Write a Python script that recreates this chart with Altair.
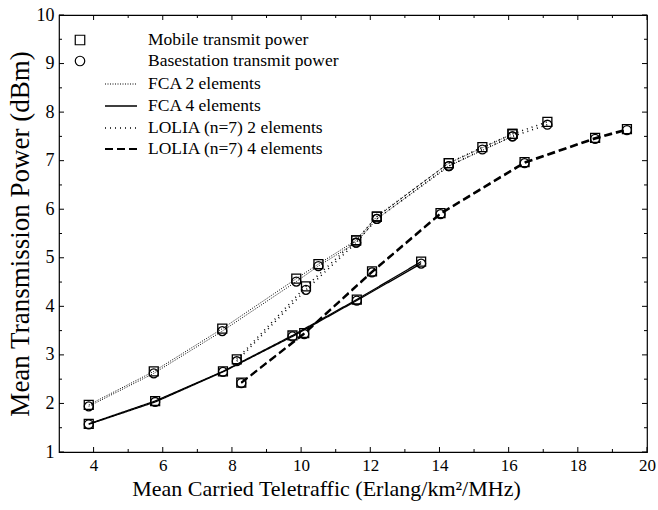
import altair as alt
import pandas as pd

# ---- data ----
fca2_x = [3.86, 5.74, 7.72, 9.86, 10.50, 11.59, 12.19, 14.27, 16.11]
fca2_mobile = [1.97, 2.66, 3.54, 4.57, 4.87, 5.36, 5.85, 6.95, 7.55]
fca2_base = [1.94, 2.62, 3.49, 4.51, 4.83, 5.31, 5.80, 6.89, 7.50]

fca4_x = [3.86, 5.78, 7.74, 9.75, 11.61, 13.47]
fca4_mobile = [1.58, 2.05, 2.66, 3.40, 4.14, 4.92]
fca4_base = [1.57, 2.03, 2.65, 3.38, 4.12, 4.88]

lolia2_x = [8.14, 10.14, 11.59, 12.19, 14.27, 15.24, 16.11, 17.12]
lolia2_mobile = [2.91, 4.41, 5.36, 5.85, 6.95, 7.28, 7.55, 7.80]
lolia2_base = [2.87, 4.34, 5.31, 5.80, 6.89, 7.23, 7.50, 7.74]

lolia4_x = [8.27, 10.09, 12.05, 14.03, 16.46, 18.50, 19.42]
lolia4_mobile = [2.43, 3.45, 4.72, 5.92, 6.97, 7.47, 7.65]
lolia4_base = [2.42, 3.43, 4.70, 5.90, 6.95, 7.45, 7.63]

series_names = ["FCA 2 elements", "FCA 4 elements",
                "LOLIA (n=7) 2 elements", "LOLIA (n=7) 4 elements"]
kind_names = ["Mobile transmit power", "Basestation transmit power"]

x_major = [4, 6, 8, 10, 12, 14, 16, 18, 20]
x_minor = [5, 7, 9, 11, 13, 15, 17, 19]
y_major = [1, 2, 3, 4, 5, 6, 7, 8, 9, 10]
y_minor = [1.5, 2.5, 3.5, 4.5, 5.5, 6.5, 7.5, 8.5, 9.5]

# ---- styles ----
dashes = [[1, 1.5], [1, 0], [1, 4], [8, 4]]
widths = [1.0, 1.8, 1.0, 0.9]
FONT = "Liberation Serif"
W, H = 588, 437
XTITLE = "Mean Carried Teletraffic (Erlang/km\u00b2/MHz)"
YTITLE = "Mean Transmission Power (dBm)"

rows = []
for s, xs, ym, yb in [
    (series_names[0], fca2_x, fca2_mobile, fca2_base),
    (series_names[1], fca4_x, fca4_mobile, fca4_base),
    (series_names[2], lolia2_x, lolia2_mobile, lolia2_base),
    (series_names[3], lolia4_x, lolia4_mobile, lolia4_base),
]:
    for k, ys in [(kind_names[0], ym), (kind_names[1], yb)]:
        for xv, yv in zip(xs, ys):
            rows.append({"series": s, "kind": k, "key": s + "|" + k, "x": xv, "y": yv})
df = pd.DataFrame(rows)

xscale = alt.Scale(domain=[3, 20], nice=False, zero=False)
yscale = alt.Scale(domain=[1, 10], nice=False, zero=False)
dash_scale = alt.Scale(domain=series_names, range=dashes)
width_scale = alt.Scale(domain=series_names, range=widths)
shape_scale = alt.Scale(domain=kind_names, range=["square", "circle"])

xaxis = alt.Axis(values=x_major, labelFlush=False, labelOverlap=False, labelPadding=5,
                 labelFontSize=17, titleFontSize=22, titlePadding=5, title=XTITLE,
                 titleX=267, titleAlign="center")
yaxis = alt.Axis(values=y_major, labelFlush=False, labelOverlap=False, labelPadding=5,
                 labelFontSize=18, titleFontSize=27, titlePadding=2, title=YTITLE)


def X():
    return alt.X("x:Q", scale=xscale, axis=xaxis, title=XTITLE)


def Y():
    return alt.Y("y:Q", scale=yscale, axis=yaxis, title=YTITLE)


lines = alt.Chart(df).mark_line(color="black").encode(
    x=X(), y=Y(),
    detail="key:N",
    strokeDash=alt.StrokeDash("series:N", scale=dash_scale, legend=None),
    strokeWidth=alt.StrokeWidth("series:N", scale=width_scale, legend=None),
)

points = alt.Chart(df).mark_point(filled=False, color="black", strokeWidth=1.3, size=80, opacity=1).encode(
    x=X(), y=Y(),
    shape=alt.Shape("kind:N", scale=shape_scale, legend=None),
)

# ---- inward ticks on all four sides ----
xt = pd.DataFrame({"x": x_major + x_minor,
                   "len": [5] * len(x_major) + [3] * len(x_minor)})
yt = pd.DataFrame({"y": y_major + y_minor,
                   "len": [5] * len(y_major) + [3] * len(y_minor)})

tick_layers = []
for L in (5, 3):
    xs = xt[xt["len"] == L]
    ys = yt[yt["len"] == L]
    tick_layers.append(alt.Chart(xs).mark_rule(color="black", strokeWidth=1).encode(
        x=X(), y=alt.value(H), y2=alt.value(H - L)))
    tick_layers.append(alt.Chart(xs).mark_rule(color="black", strokeWidth=1).encode(
        x=X(), y=alt.value(0), y2=alt.value(L)))
    tick_layers.append(alt.Chart(ys).mark_rule(color="black", strokeWidth=1).encode(
        y=Y(), x=alt.value(0), x2=alt.value(L)))
    tick_layers.append(alt.Chart(ys).mark_rule(color="black", strokeWidth=1).encode(
        y=Y(), x=alt.value(W), x2=alt.value(W - L)))

# ---- hand-drawn legend (top-left, inside the plot) ----
leg_labels = kind_names + series_names
row_y = [25, 46, 69, 91, 113, 134]
leg_layers = []
for i, lab in enumerate(leg_labels):
    d = pd.DataFrame({"label": [lab], "series": [lab]})
    leg_layers.append(alt.Chart(d).mark_text(align="left", baseline="middle", font=FONT,
                                             fontSize=17.5, color="black").encode(
        text="label:N", x=alt.value(89), y=alt.value(row_y[i])))
    if i < 2:
        leg_layers.append(alt.Chart(d).mark_point(filled=False, color="black", strokeWidth=1.2,
                                                  size=90, opacity=1,
                                                  shape=["square", "circle"][i]).encode(
            x=alt.value(21), y=alt.value(row_y[i])))
    else:
        leg_layers.append(alt.Chart(d).mark_rule(color="black").encode(
            x=alt.value(46), x2=alt.value(78), y=alt.value(row_y[i]),
            strokeDash=alt.StrokeDash("series:N", scale=dash_scale, legend=None),
            strokeWidth=alt.StrokeWidth("series:N", scale=width_scale, legend=None)))

chart = alt.layer(lines, points, *tick_layers, *leg_layers).properties(
    width=W, height=H,
    autosize=alt.AutoSizeParams(type="none"),
    padding={"left": 59, "top": 15, "right": 11, "bottom": 58},
    background="white",
).configure_view(stroke="black", strokeWidth=1.2).configure_axis(
    grid=False, ticks=False, domain=False,
    labelFont=FONT, labelColor="black",
    titleFont=FONT, titleColor="black", titleFontWeight="normal",
)

chart.save("out.html", embed_options={"renderer": "svg", "actions": False})
